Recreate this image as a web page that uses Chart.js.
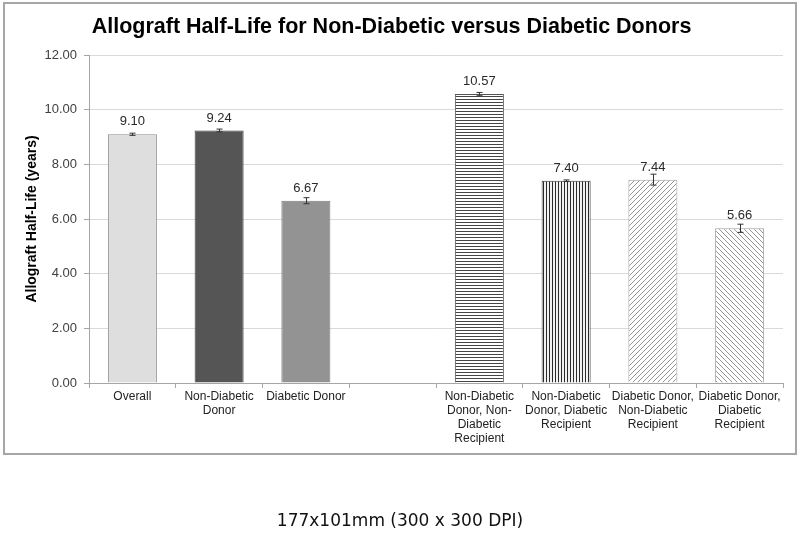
<!DOCTYPE html>
<html>
<head>
<meta charset="utf-8">
<script src="https://cdn.jsdelivr.net/npm/chart.js@4.4.1/dist/chart.umd.min.js"></script>
<style>
  html, body { margin: 0; padding: 0; background: #ffffff; }
  #wrap { position: relative; width: 800px; height: 534px; }
  #c { position: absolute; left: 0; top: 0; }
  #caption { position: absolute; left: 0; top: 509px; width: 800px; text-align: center;
    font: 17px "DejaVu Sans", Verdana, sans-serif; line-height: 22px; color: #111; }
</style>
</head>
<body>
<div id="wrap">
  <canvas id="c" width="800" height="534"></canvas>
  <div id="caption">177x101mm (300 x 300 DPI)</div>
</div>
<script>
// ---- Data ----
const categories = [
  "Overall",
  ["Non-Diabetic", "Donor"],
  "Diabetic Donor",
  "",
  ["Non-Diabetic", "Donor, Non-", "Diabetic", "Recipient"],
  ["Non-Diabetic", "Donor, Diabetic", "Recipient"],
  ["Diabetic Donor,", "Non-Diabetic", "Recipient"],
  ["Diabetic Donor,", "Diabetic", "Recipient"]
];
const halfLife = [9.10, 9.24, 6.67, null, 10.57, 7.40, 7.44, 5.66];
const errorMargin = [0.04, 0.05, 0.11, null, 0.06, 0.03, 0.20, 0.15];
const yTicks = [0, 2, 4, 6, 8, 10, 12];

const FONT = '"Liberation Sans", Arial, sans-serif';

function makePattern(kind, fg, bg) {
  const s = kind === 'h' || kind === 'v' ? 3 : 5;
  const c = document.createElement('canvas');
  c.width = s; c.height = s;
  const x = c.getContext('2d');
  x.fillStyle = bg; x.fillRect(0, 0, s, s);
  x.fillStyle = fg;
  if (kind === 'h') { x.fillRect(0, 0, s, 1); }
  else if (kind === 'v') { x.fillRect(0, 0, 1, s); }
  else {
    x.strokeStyle = fg; x.lineWidth = 1;
    x.beginPath();
    if (kind === 'f') { // forward slash /
      x.moveTo(-1, s + 1); x.lineTo(s + 1, -1);
      x.moveTo(-1, 1); x.lineTo(1, -1);
      x.moveTo(s - 1, s + 1); x.lineTo(s + 1, s - 1);
    } else { // backslash \
      x.moveTo(-1, -1); x.lineTo(s + 1, s + 1);
      x.moveTo(s - 1, -1); x.lineTo(s + 1, 1);
      x.moveTo(-1, s - 1); x.lineTo(1, s + 1);
    }
    x.stroke();
  }
  return x.createPattern(c, 'repeat');
}

const fills = [
  '#dedede', '#555555', '#939393', '#ffffff',
  makePattern('h', '#454545', '#ffffff'),
  makePattern('v', '#2a2a2a', '#f2f2f2'),
  makePattern('f', '#959595', '#ffffff'),
  makePattern('b', '#959595', '#ffffff')
];
const borders = ['#8c8c8c', '#404040', '#7a7a7a', '#ffffff', '#555555', '#333333', '#a0a0a0', '#a0a0a0'];

const framePlugin = {
  id: 'frame',
  beforeDraw(chart) {
    const ctx = chart.ctx;
    ctx.save();
    ctx.fillStyle = '#ffffff';
    ctx.fillRect(0, 0, chart.width, chart.height);
    ctx.strokeStyle = '#a6a6a6';
    ctx.lineWidth = 2;
    ctx.strokeRect(4, 3, 792, 451);
    ctx.restore();
  }
};

const errorLabelPlugin = {
  id: 'errorLabels',
  afterDatasetsDraw(chart) {
    const ctx = chart.ctx;
    const yScale = chart.scales.y;
    const meta = chart.getDatasetMeta(0);
    ctx.save();
    meta.data.forEach((bar, i) => {
      const v = halfLife[i];
      if (v === null) return;
      const e = errorMargin[i];
      const x = Math.round(bar.x) + 0.5;
      const yHi = yScale.getPixelForValue(v + e);
      const yLo = yScale.getPixelForValue(v - e);
      ctx.strokeStyle = '#333333';
      ctx.lineWidth = 1;
      ctx.beginPath();
      ctx.moveTo(x, yHi); ctx.lineTo(x, yLo);
      ctx.moveTo(x - 3, yHi); ctx.lineTo(x + 3, yHi);
      ctx.moveTo(x - 3, yLo); ctx.lineTo(x + 3, yLo);
      ctx.stroke();
      const yTop = yScale.getPixelForValue(v);
      ctx.fillStyle = '#2a2a2a';
      ctx.font = '13px ' + FONT;
      ctx.textAlign = 'center';
      ctx.textBaseline = 'middle';
      ctx.fillText(v.toFixed(2), bar.x, yTop - 12.5);
    });
    ctx.restore();
  }
};

new Chart(document.getElementById('c'), {
  type: 'bar',
  data: {
    labels: categories,
    datasets: [{
      data: halfLife,
      backgroundColor: fills,
      borderColor: borders,
      borderWidth: 1,
      categoryPercentage: 1.0,
      barPercentage: 0.565
    }]
  },
  options: {
    responsive: false,
    animation: false,
    events: [],
    layout: { padding: { left: 0, right: 17, top: 0, bottom: 0 } },
    plugins: {
      legend: { display: false },
      tooltip: { enabled: false },
      title: {
        display: true,
        text: 'Allograft Half-Life for Non-Diabetic versus Diabetic Donors',
        color: '#000000',
        font: { family: FONT, size: 21.5, weight: 'bold', lineHeight: 1.2 },
        padding: { top: 14.3, bottom: 14.9 }
      }
    },
    scales: {
      x: {
        afterFit(s) { s.height = 151; },
        border: { color: '#a6a6a6' },
        grid: { drawOnChartArea: false, drawTicks: true, tickLength: 5, tickColor: '#a6a6a6' },
        ticks: {
          color: '#222222', padding: 2, maxRotation: 0, autoSkip: false,
          font: { family: FONT, size: 12, lineHeight: 1.17 }
        }
      },
      y: {
        min: 0, max: 12,
        afterFit(s) { s.width = 89; },
        afterBuildTicks(s) { s.ticks = yTicks.map(v => ({ value: v })); },
        border: { color: '#a6a6a6' },
        grid: { color: '#d9d9d9', tickLength: 5, tickColor: '#a6a6a6' },
        ticks: {
          color: '#404040', padding: 7,
          font: { family: FONT, size: 13 },
          callback: v => Number(v).toFixed(2)
        },
        title: {
          display: true,
          text: 'Allograft Half-Life (years)',
          color: '#000000',
          font: { family: FONT, size: 14, weight: 'bold', lineHeight: 1.2 },
          padding: { top: 24, bottom: 0 }
        }
      }
    }
  },
  plugins: [framePlugin, errorLabelPlugin]
});
</script>
</body>
</html>
